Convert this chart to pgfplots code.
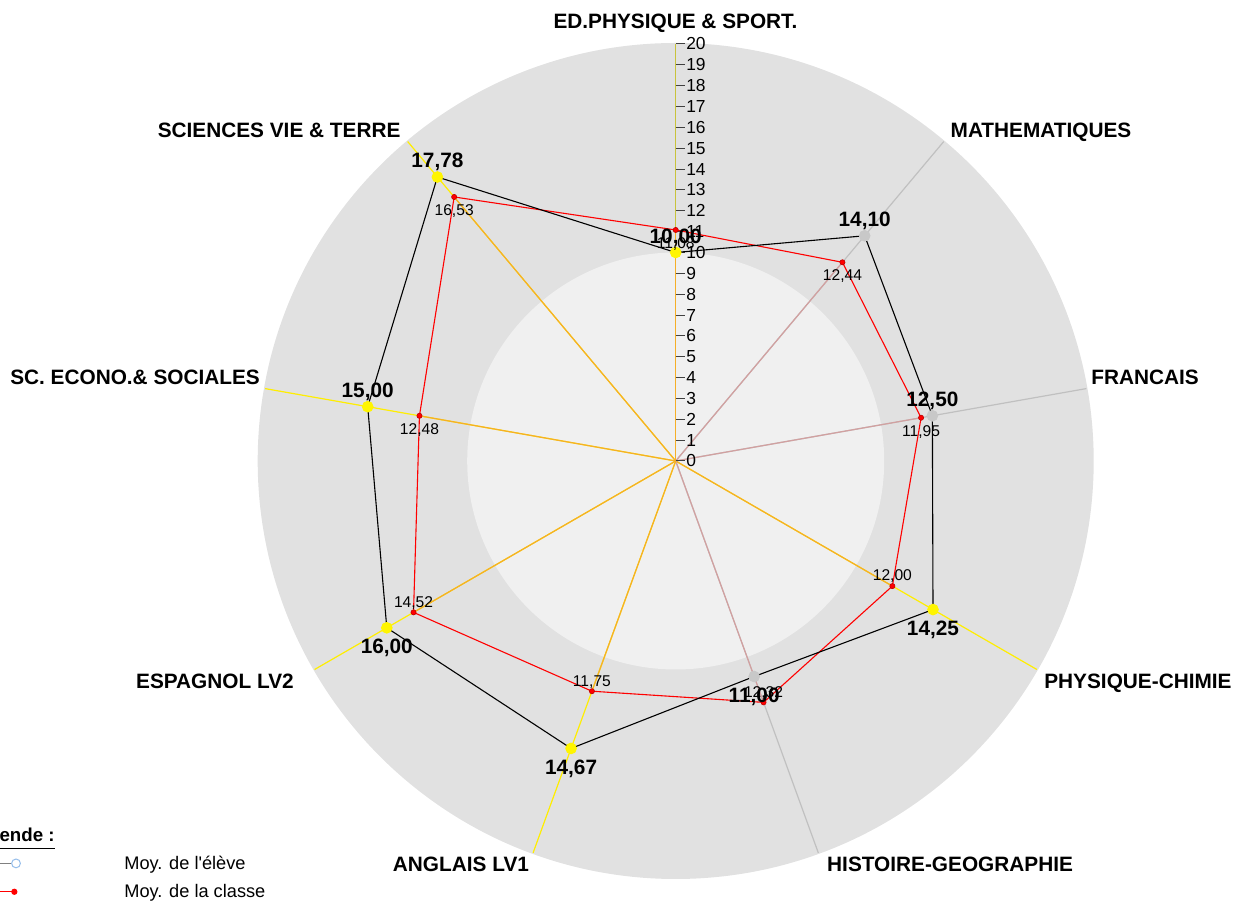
\documentclass[border=0pt]{standalone}
\usepackage{fontspec}
\setmainfont{Liberation Sans}
\newfontfamily\lsans{Liberation Sans}
\usepackage{pgfplots}
\pgfplotsset{compat=1.18}
\definecolor{diskout}{RGB}{225,225,225}
\definecolor{diskin}{RGB}{240,240,240}
\definecolor{axyel}{RGB}{255,238,0}
\definecolor{axora}{RGB}{245,175,40}
\definecolor{axgray}{RGB}{192,192,192}
\definecolor{axrose}{RGB}{210,160,160}
\definecolor{axolive}{RGB}{200,195,60}
\definecolor{ptyel}{RGB}{255,245,0}
\definecolor{ptgray}{RGB}{200,200,200}
\definecolor{legblue}{RGB}{150,190,235}
\newcommand{\lab}{\fontsize{10.4}{12}\selectfont\bfseries}
\begin{document}
\begin{tikzpicture}
\begin{axis}[name=ax, at={(0,0)}, anchor=south west, scale only axis,
  width=619.5pt, height=453.5pt,
  xmin=-32.408, xmax=27.017, ymin=-21.391, ymax=22.110,
  hide axis, clip=false]

\fill[diskout] (axis cs:0,0) circle[radius=209pt];
\fill[diskin] (axis cs:0,0) circle[radius=104.25pt];

% axis lines
\addplot[axolive, line width=0.6pt, data cs=polar] coordinates {(90,0) (90,20)};
\addplot[axgray, line width=0.6pt, data cs=polar] coordinates {(50,0) (50,20)};
\addplot[axgray, line width=0.6pt, data cs=polar] coordinates {(10,0) (10,20)};
\addplot[axyel, line width=0.6pt, data cs=polar] coordinates {(-30,0) (-30,20)};
\addplot[axgray, line width=0.6pt, data cs=polar] coordinates {(-70,0) (-70,20)};
\addplot[axyel, line width=0.6pt, data cs=polar] coordinates {(-110,0) (-110,20)};
\addplot[axyel, line width=0.6pt, data cs=polar] coordinates {(-150,0) (-150,20)};
\addplot[axyel, line width=0.6pt, data cs=polar] coordinates {(170,0) (170,20)};
\addplot[axyel, line width=0.6pt, data cs=polar] coordinates {(130,0) (130,20)};
% inner parts (up to class value)
\addplot[axora, line width=0.6pt, data cs=polar] coordinates {(90,0) (90,11.08)};
\addplot[axrose, line width=0.6pt, data cs=polar] coordinates {(50,0) (50,12.44)};
\addplot[axrose, line width=0.6pt, data cs=polar] coordinates {(10,0) (10,11.95)};
\addplot[axora, line width=0.6pt, data cs=polar] coordinates {(-30,0) (-30,12.00)};
\addplot[axrose, line width=0.6pt, data cs=polar] coordinates {(-70,0) (-70,12.32)};
\addplot[axora, line width=0.6pt, data cs=polar] coordinates {(-110,0) (-110,11.75)};
\addplot[axora, line width=0.6pt, data cs=polar] coordinates {(-150,0) (-150,14.52)};
\addplot[axora, line width=0.6pt, data cs=polar] coordinates {(170,0) (170,12.48)};
\addplot[axora, line width=0.6pt, data cs=polar] coordinates {(130,0) (130,16.53)};

% radial ticks
\pgfplotsinvokeforeach{0,...,20}{
  \draw[black!75, line width=0.5pt] (axis cs:0,#1) -- (axis cs:0.446,#1)
    node[anchor=west, inner sep=0pt, xshift=0.4pt, text=black, font=\fontsize{8.7}{10}\selectfont] {#1};
}

% class polygon
\addplot[red, line width=0.55pt, data cs=polar] coordinates {
 (90,11.08) (50,12.44) (10,11.95) (-30,12.00) (-70,12.32) (-110,11.75) (-150,14.52) (170,12.48) (130,16.53) (90,11.08)};
% student polygon
\addplot[black, line width=0.55pt, data cs=polar] coordinates {
 (90,10) (50,14.10) (10,12.50) (-30,14.25) (-70,11.00) (-110,14.67) (-150,16.00) (170,15.00) (130,17.78) (90,10)};

% class markers
\addplot[only marks, mark=*, mark size=1.3pt, mark options={fill=red, draw=red!75!black, line width=0.3pt}, data cs=polar] coordinates {
 (90,11.08) (50,12.44) (10,11.95) (-30,12.00) (-70,12.32) (-110,11.75) (-150,14.52) (170,12.48) (130,16.53)};
% student markers
\addplot[only marks, mark=*, mark size=2.7pt, mark options={fill=ptyel, draw=ptyel}, data cs=polar] coordinates {
 (90,10) (-30,14.25) (-110,14.67) (-150,16.00) (170,15.00) (130,17.78)};
\addplot[only marks, mark=*, mark size=2.7pt, mark options={fill=ptgray, draw=ptgray}, data cs=polar] coordinates {
 (50,14.10) (10,12.50) (-70,11.00)};

% class value labels
\addplot[draw=none, data cs=polar, nodes near coords, point meta=explicit symbolic,
  nodes near coords style={anchor=north, yshift=-3.6pt, inner sep=0pt, text=black, font=\fontsize{7.8}{9}\selectfont}] coordinates {
 (90,11.08) [11,08] (50,12.44) [12,44] (10,11.95) [11,95] (170,12.48) [12,48] (130,16.53) [16,53]};
\addplot[draw=none, data cs=polar, nodes near coords, point meta=explicit symbolic,
  nodes near coords style={anchor=base, yshift=2.6pt, inner sep=0pt, text=black, font=\fontsize{7.8}{9}\selectfont}] coordinates {
 (-30,12.00) [12,00] (-70,12.32) [12,32] (-110,11.75) [11,75] (-150,14.52) [14,52]};
% student value labels
\addplot[draw=none, data cs=polar, nodes near coords, point meta=explicit symbolic,
  nodes near coords style={anchor=base, yshift=4.6pt, inner sep=0pt, text=black, font=\lab}] coordinates {
 (90,10) [10,00] (50,14.10) [14,10] (10,12.50) [12,50] (170,15.00) [15,00] (130,17.78) [17,78]};
\addplot[draw=none, data cs=polar, nodes near coords, point meta=explicit symbolic,
  nodes near coords style={anchor=north, yshift=-5.5pt, inner sep=0pt, text=black, font=\lab}] coordinates {
 (-30,14.25) [14,25] (-70,11.00) [11,00] (-110,14.67) [14,67] (-150,16.00) [16,00]};

% category labels
\node[anchor=base, inner sep=0pt, font=\lab] at (axis cs:-0.01,20.72) {ED.PHYSIQUE \& SPORT.};
\node[anchor=base, inner sep=0pt, font=\lab] at (axis cs:17.52,15.52) {MATHEMATIQUES};
\node[anchor=base, inner sep=0pt, font=\lab] at (axis cs:22.51,3.67) {FRANCAIS};
\node[anchor=base, inner sep=0pt, font=\lab] at (axis cs:22.17,-10.91) {PHYSIQUE-CHIMIE};
\node[anchor=base, inner sep=0pt, font=\lab] at (axis cs:13.16,-19.69) {HISTOIRE-GEOGRAPHIE};
\node[anchor=base, inner sep=0pt, font=\lab] at (axis cs:-10.30,-19.69) {ANGLAIS LV1};
\node[anchor=base, inner sep=0pt, font=\lab] at (axis cs:-22.10,-10.91) {ESPAGNOL LV2};
\node[anchor=base, inner sep=0pt, font=\lab] at (axis cs:-25.93,3.67) {SC. ECONO.\& SOCIALES};
\node[anchor=base, inner sep=0pt, font=\lab] at (axis cs:-19.02,15.52) {SCIENCES VIE \& TERRE};

% legend
\node[anchor=base east, inner sep=0pt, font=\fontsize{9.35}{11}\selectfont\bfseries] at (axis cs:-29.77,-18.26) {\underline{Légende :}};
\addplot[color=gray, line width=0.5pt, mark=*, mark indices={2}, mark size=2.2pt, mark options={draw=legblue, fill=white, line width=0.5pt}] coordinates {(-33,-19.30) (-31.64,-19.30)};
\addplot[color=red, line width=0.5pt, mark=*, mark indices={2}, mark size=1.3pt, mark options={fill=red, draw=red}] coordinates {(-33,-20.66) (-31.72,-20.66)};
\node[anchor=base west, inner sep=0pt, font=\lsans\fontsize{9.1}{11}\selectfont] at (axis cs:-26.46,-19.58) {Moy. de l'élève};
\node[anchor=base west, inner sep=0pt, font=\lsans\fontsize{9.1}{11}\selectfont] at (axis cs:-26.46,-20.93) {Moy. de la classe};
\end{axis}
\pgfresetboundingbox
\useasboundingbox (ax.south west) rectangle (ax.north east);
\end{tikzpicture}
\end{document}
